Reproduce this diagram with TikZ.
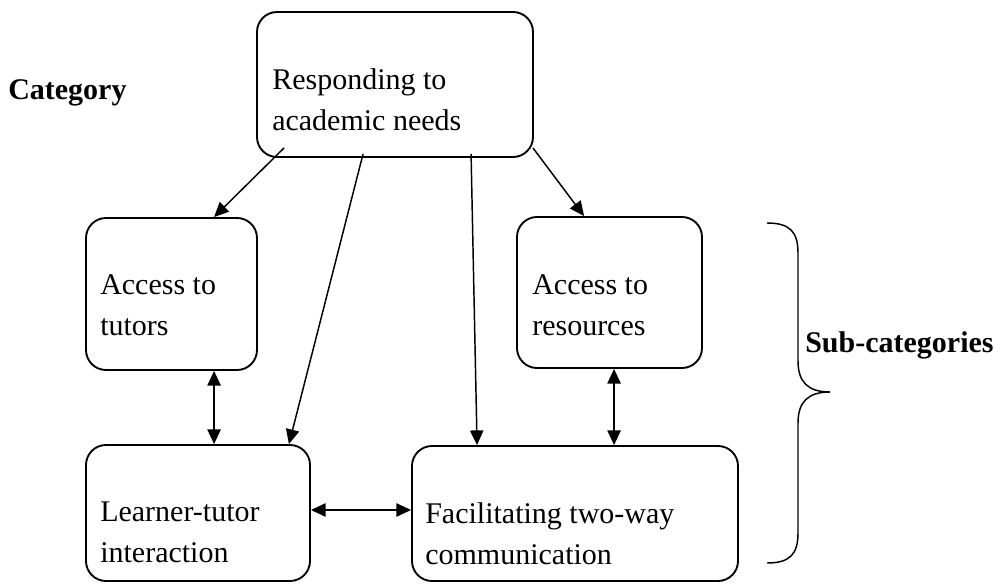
\documentclass[tikz,border=0pt]{standalone}
\usepackage{fontspec}
\setmainfont{Liberation Serif}
\usetikzlibrary{arrows.meta,calc,fit}
\tikzset{fbbox/.style={draw,rounded corners=15pt,line width=1.4pt,inner sep=0pt}}
\tikzset{fbtext/.style={anchor=north west,inner sep=0pt,align=left,font=\fontsize{22.5pt}{30.75pt}\selectfont}}
\tikzset{fblabel/.style={anchor=base west,inner sep=0pt,font=\fontsize{22.5pt}{30.75pt}\selectfont\bfseries}}
\tikzset{fbarrow/.style={line width=1.1pt,>={Triangle[length=11pt,width=10pt]}}}

\begin{document}
\begin{tikzpicture}[x=0.75pt,y=0.75pt]
  \useasboundingbox (0,0) rectangle (1003,583);

  % boxes
  \node [fbbox,fit={(257,426) (533,571)}] (resp) {};
  \node [fbbox,fit={(86,213) (257,365)}]  (tutors) {};
  \node [fbbox,fit={(517,215) (702,366)}] (resources) {};
  \node [fbbox,fit={(86,2) (310,138)}]    (learner) {};
  \node [fbbox,fit={(412,2) (738,137)}]   (facil) {};

  \node [fbtext] (resptxt) at (272,515) {Responding to\\academic needs};
  \node [fbtext] (tutorstxt) at (100,309) {Access to\\tutors};
  \node [fbtext] (restxt) at (532,309) {Access to\\resources};
  \node [fbtext] (learnertxt) at (100,81) {Learner-tutor\\interaction};
  \node [fbtext] (faciltxt) at (425,81) {Facilitating two-way\\communication};

  \node [fblabel] (cat) at (8,483) {Category};
  \node [fblabel] (subcat) at (805,231) {Sub-categories};

  % arrows
  \draw [fbarrow,->] ($(resp.south west)+(28,10)$) -- ($(tutors.north west)+(129,0)$);
  \draw [fbarrow,->] ($(resp.south west)+(107,4)$) -- ($(learner.north east)+(-22,0)$);
  \draw [fbarrow,->] ($(resp.south west)+(215,4)$) -- ($(facil.north west)+(66,0)$);
  \draw [fbarrow,->] ($(resp.south east)+(-1,10)$) -- ($(resources.north west)+(68,0)$);
  \draw [fbarrow,<->] ($(tutors.south west)+(129,0)$) -- ($(learner.north west)+(129,0)$);
  \draw [fbarrow,<->] ($(resources.south west)+(98,0)$) -- ($(facil.north west)+(203,0)$);
  \draw [fbarrow,<->] ($(learner.east)+(0,3)$) -- ($(facil.west)+(0,3.5)$);

  % brace
  \draw [line width=1.1pt] (767,360) .. controls (790,360) and (798,351) .. (798,330)
    -- (798,222) .. controls (798,201) and (808,191) .. (830,191)
    .. controls (808,191) and (798,181) .. (798,160)
    -- (798,50) .. controls (798,29) and (790,20) .. (767,20);
\end{tikzpicture}
\end{document}
